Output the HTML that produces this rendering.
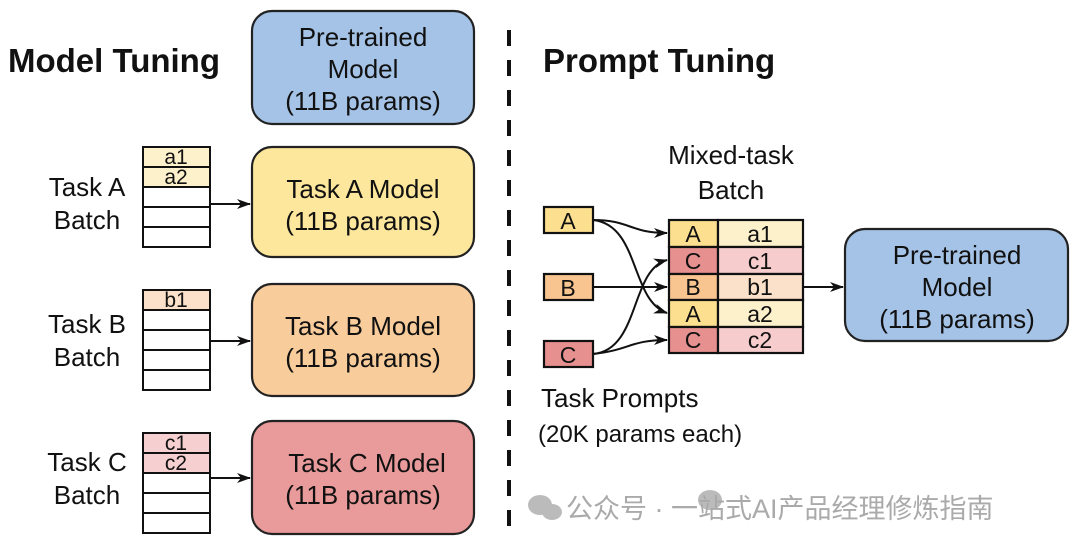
<!DOCTYPE html>
<html><head><style>body{margin:0;background:#fff}svg{display:block}text{font-family:"Liberation Sans",Arial,Helvetica,sans-serif;fill:#111}</style></head><body>
<svg width="1080" height="548" viewBox="0 0 1080 548" xmlns="http://www.w3.org/2000/svg" font-family="Liberation Sans, Arial, sans-serif">
<defs><marker id="ar" markerWidth="14" markerHeight="10" refX="13" refY="5" orient="auto" markerUnits="userSpaceOnUse"><path d="M0,0 L14,5 L0,10 L4,5 z" fill="#111"/></marker></defs>
<text x="8" y="72" font-size="33" font-weight="bold">Model Tuning</text>
<text x="543" y="72" font-size="33" font-weight="bold">Prompt Tuning</text>
<line x1="509" y1="30" x2="509" y2="540" stroke="#111" stroke-width="4" stroke-dasharray="16,14"/>
<g stroke="#222" stroke-width="2.2">
<rect x="252" y="11" width="222" height="113" rx="20" fill="#a5c3e6"/>
<rect x="252" y="147" width="222" height="110" rx="20" fill="#fde79c"/>
<rect x="252" y="284" width="222" height="112" rx="20" fill="#f9cc9c"/>
<rect x="252" y="421" width="222" height="113" rx="20" fill="#e99a9a"/>
<rect x="845" y="229" width="223" height="112" rx="20" fill="#a5c3e6"/>
</g>
<g font-size="26" text-anchor="middle">
<text x="363" y="46">Pre-trained</text><text x="363" y="78">Model</text><text x="363" y="110">(11B params)</text>
<text x="363" y="198">Task A Model</text><text x="363" y="230">(11B params)</text>
<text x="363" y="335">Task B Model</text><text x="363" y="367">(11B params)</text>
<text x="367" y="472">Task C Model</text><text x="363" y="504">(11B params)</text>
<text x="957" y="264">Pre-trained</text><text x="957" y="296">Model</text><text x="957" y="328">(11B params)</text>
<text x="87" y="196">Task A</text><text x="87" y="229">Batch</text>
<text x="87" y="333">Task B</text><text x="87" y="366">Batch</text>
<text x="87" y="471">Task C</text><text x="87" y="504">Batch</text>
<text x="731" y="164">Mixed-task</text><text x="731" y="199">Batch</text>
</g>
<text x="541" y="407" font-size="26">Task Prompts</text>
<text x="538" y="442" font-size="24">(20K params each)</text>
<g stroke="#111" stroke-width="2" font-size="20" text-anchor="middle">
<rect x="143" y="147" width="67" height="20" fill="#fdf1cb"/><rect x="143" y="167" width="67" height="20" fill="#fdf1cb"/>
<rect x="143" y="187" width="67" height="20" fill="#fff"/><rect x="143" y="207" width="67" height="20" fill="#fff"/><rect x="143" y="227" width="67" height="20" fill="#fff"/>
<rect x="143" y="290" width="67" height="20" fill="#fbe1c9"/><rect x="143" y="310" width="67" height="20" fill="#fff"/><rect x="143" y="330" width="67" height="20" fill="#fff"/><rect x="143" y="350" width="67" height="20" fill="#fff"/><rect x="143" y="370" width="67" height="20" fill="#fff"/>
<rect x="143" y="433" width="67" height="20" fill="#f6d0d0"/><rect x="143" y="453" width="67" height="20" fill="#f6d0d0"/><rect x="143" y="473" width="67" height="20" fill="#fff"/><rect x="143" y="493" width="67" height="20" fill="#fff"/><rect x="143" y="513" width="67" height="20" fill="#fff"/>
</g>
<g font-size="21" text-anchor="middle"><text x="176" y="164">a1</text><text x="176" y="184">a2</text><text x="176" y="307">b1</text><text x="176" y="450">c1</text><text x="176" y="470">c2</text></g>
<g stroke="#111" stroke-width="2" fill="none" marker-end="url(#ar)">
<line x1="210" y1="204" x2="250" y2="204"/><line x1="210" y1="341" x2="250" y2="341"/><line x1="210" y1="478" x2="250" y2="478"/>
<line x1="803" y1="287" x2="843" y2="287"/>
<path d="M593,220 C630,220 630,233 667,233"/>
<path d="M593,220 C640,225 630,300 667,313"/>
<line x1="593" y1="287" x2="667" y2="287"/>
<path d="M593,354 C640,350 630,270 667,260"/>
<path d="M593,354 C630,350 630,340 667,340"/>
</g>
<g stroke="#111" stroke-width="2.2">
<rect x="544" y="207" width="49" height="26" fill="#fde08f"/>
<rect x="544" y="274" width="49" height="26" fill="#f8c48f"/>
<rect x="544" y="341" width="49" height="26" fill="#e79090"/>
<rect x="669" y="220" width="49" height="27" fill="#fde08f"/><rect x="718" y="220" width="85" height="27" fill="#fdf1cb"/>
<rect x="669" y="247" width="49" height="27" fill="#e79090"/><rect x="718" y="247" width="85" height="27" fill="#f6cccc"/>
<rect x="669" y="274" width="49" height="26" fill="#f8c48f"/><rect x="718" y="274" width="85" height="26" fill="#fbe1c9"/>
<rect x="669" y="300" width="49" height="27" fill="#fde08f"/><rect x="718" y="300" width="85" height="27" fill="#fdf1cb"/>
<rect x="669" y="327" width="49" height="26" fill="#e79090"/><rect x="718" y="327" width="85" height="26" fill="#f6cccc"/>
</g>
<g font-size="23" text-anchor="middle">
<text x="568" y="229">A</text><text x="568" y="296">B</text><text x="568" y="363">C</text>
<text x="693" y="242">A</text><text x="760" y="242">a1</text>
<text x="693" y="269">C</text><text x="760" y="269">c1</text>
<text x="693" y="295">B</text><text x="760" y="295">b1</text>
<text x="693" y="322">A</text><text x="760" y="322">a2</text>
<text x="693" y="348">C</text><text x="760" y="348">c2</text>
</g>
<g fill="#bbb"><ellipse cx="540" cy="505" rx="12" ry="10"/><ellipse cx="552" cy="512" rx="10" ry="8"/><ellipse cx="710" cy="500" rx="12" ry="10"/></g>
<text x="566" y="518" font-size="27" style="font-family:'Liberation Sans','Noto Sans CJK SC',sans-serif;fill:#aaa">公众号 · 一站式AI产品经理修炼指南</text>
</svg>
</body></html>
